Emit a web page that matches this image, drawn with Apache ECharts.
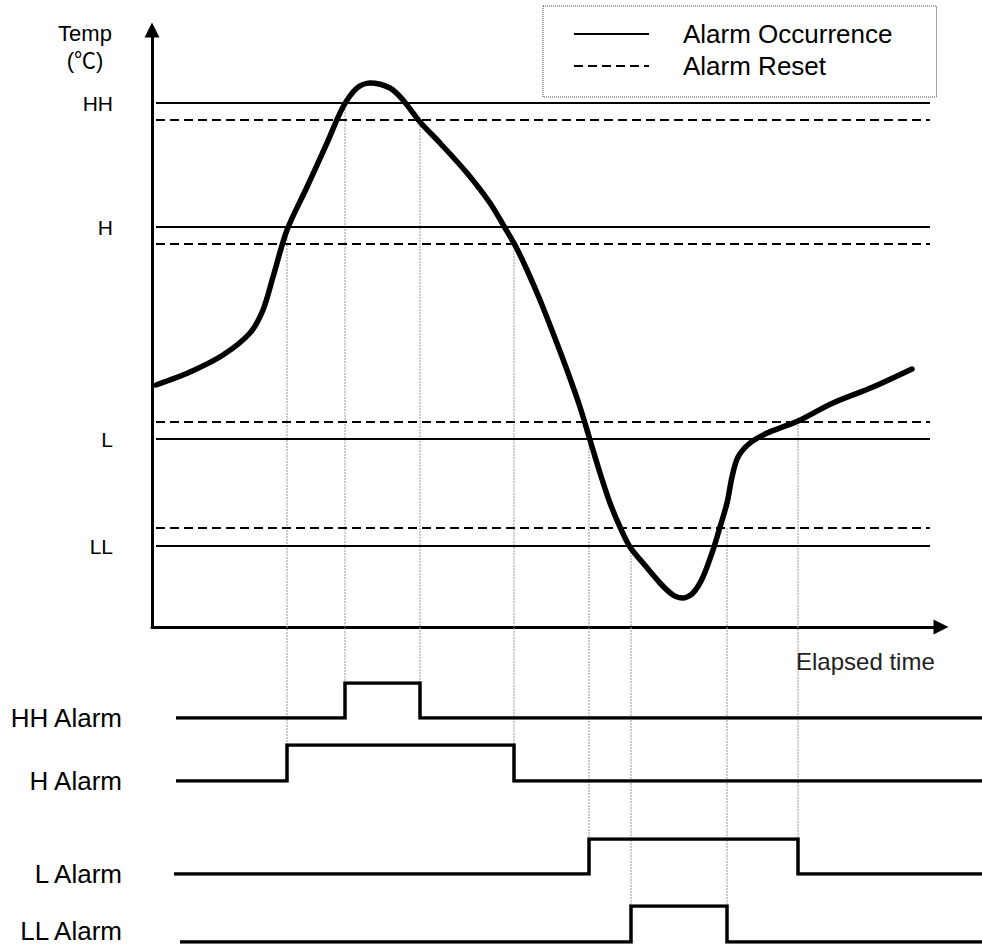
<!DOCTYPE html>
<html>
<head>
<meta charset="utf-8">
<script src="https://cdn.jsdelivr.net/npm/echarts@6/dist/echarts.min.js"></script>
<style>html,body{margin:0;padding:0;background:#fff}#c{width:982px;height:947px}</style>
</head>
<body>
<div id="c"></div>
<script>
// ---- data (time units, temperature units) ----
const timeValues = [0.4, 3.8, 7.1, 9.8, 11.1, 12.1, 13.5, 15.5, 17.5, 19.1, 20.5, 21.8, 23.8, 25.1, 26.8, 28.8, 31.5, 33.8, 35.3, 36.4, 37.5, 38.8, 40.1, 41.5, 42.8, 43.8, 44.8, 45.8, 46.8, 47.8, 49.1, 50.8, 52.1, 53.1, 54.1, 55.1, 56.1, 56.8, 57.5, 58.0, 58.6, 59.8, 61.5, 62.8, 64.6, 68.1, 72.1, 76.0];
const tempValues = [48.4, 51.0, 54.4, 58.8, 63.4, 70.0, 79.4, 88.0, 96.8, 104.0, 107.8, 108.8, 107.8, 105.4, 101.0, 96.8, 90.8, 84.8, 79.8, 76.0, 71.4, 65.4, 58.8, 51.4, 44.0, 37.4, 30.8, 24.8, 20.0, 16.0, 12.8, 8.8, 6.4, 5.8, 6.8, 10.0, 15.4, 20.0, 24.8, 30.0, 34.0, 36.8, 38.8, 39.8, 41.2, 44.8, 48.0, 51.6];

const thresholdNames = ['HH', 'H', 'L', 'LL'];
const alarmLevels = [104.8, 80.0, 37.6, 16.2];
const resetLevels = [101.4, 76.6, 41.0, 19.8];
const thresholdSpan = [0.4, 77.8];

const alarmNames = ['HH Alarm', 'H Alarm', 'L Alarm', 'LL Alarm'];
const alarmStart = [2.4, 2.4, 2.2, 2.8];
const alarmOn = [19.3, 13.5, 43.7, 47.9];
const alarmOff = [26.8, 36.2, 64.6, 57.5];
const alarmEnd = [83, 83, 83, 83];

const legendNames = ['Alarm Occurrence', 'Alarm Reset'];

// ---- layout ----
const FONT = '"Liberation Sans", Arial, "Noto Sans CJK KR", sans-serif';
const alarmGridTops = [683, 745, 839, 906];
const alarmGridHeights = [35, 36, 35, 36];
const alarmLabelStyles = [
  { padding: [0, 0, 12, 0], verticalAlign: 'middle', lineHeight: 26 },
  { padding: [0, 0, 8, 0], verticalAlign: 'middle', lineHeight: 26 },
  { padding: [0, 0, 12, 0], verticalAlign: 'middle', lineHeight: 26 },
  { padding: [0, 0, 0, 0], verticalAlign: 'bottom', lineHeight: 22 }
];

const grids = [{ left: 152, top: 30, width: 789, height: 597 }];
const xAxes = [{
  gridIndex: 0, type: 'value', min: 0, max: 78.9,
  axisLine: { show: true, onZero: false, lineStyle: { color: '#000', width: 3 }, symbol: ['none', 'triangle'], symbolSize: [15, 15] },
  axisTick: { show: false }, axisLabel: { show: false }, splitLine: { show: false }
}];
const yAxes = [{
  gridIndex: 0, type: 'value', min: 0, max: 119.4,
  axisLine: { show: true, onZero: false, lineStyle: { color: '#000', width: 3 }, symbol: ['none', 'triangle'], symbolSize: [15, 15] },
  axisTick: { show: false }, splitLine: { show: false },
  axisLabel: {
    show: true, customValues: alarmLevels, margin: 39, color: '#000', fontSize: 21, fontFamily: FONT,
    formatter: function (v) { const i = alarmLevels.indexOf(v); return i >= 0 ? thresholdNames[i] : ''; }
  }
}];
const series = [];

thresholdNames.forEach(function (n, i) {
  series.push({
    name: legendNames[0], type: 'line', xAxisIndex: 0, yAxisIndex: 0, symbol: 'none', silent: true,
    data: [[thresholdSpan[0], alarmLevels[i]], [thresholdSpan[1], alarmLevels[i]]],
    itemStyle: { color: '#000' },
    lineStyle: { color: '#000', width: 2, type: 'solid' }, z: 3
  });
  series.push({
    name: legendNames[1], type: 'line', xAxisIndex: 0, yAxisIndex: 0, symbol: 'none', silent: true,
    data: [[thresholdSpan[0], resetLevels[i]], [thresholdSpan[1], resetLevels[i]]],
    itemStyle: { color: '#000' },
    lineStyle: { color: '#000', width: 2, type: [9, 5] }, z: 3
  });
});

series.push({
  name: 'Temp', type: 'line', xAxisIndex: 0, yAxisIndex: 0, symbol: 'none', smooth: 0.3, silent: true,
  data: timeValues.map(function (t, i) { return [t, tempValues[i]]; }),
  lineStyle: { color: '#000', width: 5.5, cap: 'round', join: 'round' }, z: 4
});

alarmNames.forEach(function (n, i) {
  const g = i + 1;
  grids.push({ left: 152, width: 830, top: alarmGridTops[i], height: alarmGridHeights[i] });
  xAxes.push({ gridIndex: g, type: 'value', min: 0, max: 83, show: false });
  yAxes.push({
    gridIndex: g, type: 'value', min: 0, max: 1,
    axisLine: { show: false }, axisTick: { show: false }, splitLine: { show: false },
    axisLabel: Object.assign({
      show: true, customValues: [0], margin: 30, color: '#000', fontSize: 26, fontFamily: FONT,
      formatter: function () { return n; }
    }, alarmLabelStyles[i])
  });
  series.push({
    name: n, type: 'line', xAxisIndex: g, yAxisIndex: g, symbol: 'none', silent: true,
    data: [[alarmStart[i], 0], [alarmOn[i], 0], [alarmOn[i], 1], [alarmOff[i], 1], [alarmOff[i], 0], [alarmEnd[i], 0]],
    lineStyle: { color: '#000', width: 3.5, join: 'miter', cap: 'butt' }, z: 4
  });
});

const chart = echarts.init(document.getElementById('c'), null, { renderer: 'svg' });
chart.setOption({
  animation: false,
  backgroundColor: '#fff',
  textStyle: { fontFamily: FONT },
  title: [
    { text: 'Temp\n(℃)', left: 85, top: 20, padding: 0, textAlign: 'center',
      textStyle: { fontSize: 22, lineHeight: 27, fontWeight: 'normal', color: '#000', fontFamily: FONT } },
    { text: 'Elapsed time', left: 796, top: 647, padding: 0,
      textStyle: { fontSize: 24, lineHeight: 28, fontWeight: 'normal', color: '#222', fontFamily: FONT } }
  ],
  legend: {
    data: legendNames, orient: 'vertical', left: 543, top: 6, padding: [13, 44, 16, 30],
    itemGap: 2, itemWidth: 75, itemHeight: 14, selectedMode: false,
    itemStyle: { opacity: 0, borderWidth: 0 },
    borderColor: '#444', borderWidth: 1, borderType: 'dotted',
    textStyle: { fontSize: 26, lineHeight: 30, color: '#000', fontFamily: FONT, padding: [0, 0, 0, 29] }
  },
  grid: grids, xAxis: xAxes, yAxis: yAxes, series: series
});

// guide lines from threshold crossings down to the alarm signal edges
const guides = [];
alarmNames.forEach(function (n, i) {
  [[alarmOn[i], alarmLevels[i]], [alarmOff[i], resetLevels[i]]].forEach(function (p) {
    const top = chart.convertToPixel({ gridIndex: 0 }, p);
    const bot = chart.convertToPixel({ gridIndex: i + 1 }, [p[0], 1]);
    guides.push({
      type: 'line', silent: true, z: 1,
      shape: { x1: top[0], y1: top[1], x2: bot[0], y2: bot[1] },
      style: { stroke: '#999', lineWidth: 1, lineDash: [2, 1] }
    });
  });
});
chart.setOption({ graphic: guides });
</script>
</body>
</html>
